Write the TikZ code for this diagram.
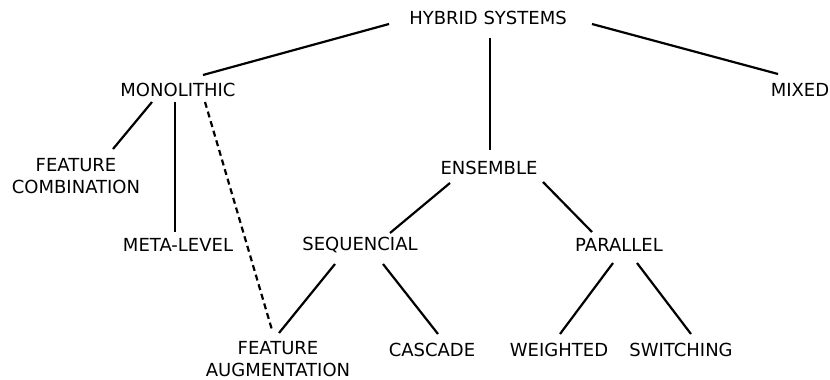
\documentclass[tikz,border=0pt]{standalone}
\usepackage{fontspec}
\setmainfont{DejaVu Sans}
\begin{document}
\begin{tikzpicture}[x=1pt,y=-1pt,
  lbl/.style={inner sep=0pt,font=\fontsize{18}{22}\selectfont,align=center},
  link/.style={line width=2.2pt},
  dlink/.style={line width=2.2pt,dash pattern=on 6pt off 4pt}]
\useasboundingbox (0,0) rectangle (830,380);
% nodes
\node[lbl] (hyb) at (488,18) {HYBRID SYSTEMS};
\node[lbl] (mono) at (178,90) {MONOLITHIC};
\node[lbl] (mixed) at (800,90) {MIXED};
\node[lbl] (fc) at (76,176) {FEATURE\\COMBINATION};
\node[lbl] (ml) at (178,245) {META-LEVEL};
\node[lbl] (ens) at (489,168) {ENSEMBLE};
\node[lbl] (seq) at (360,245) {SEQUENCIAL};
\node[lbl] (par) at (619,245) {PARALLEL};
\node[lbl] (fa) at (278,359) {FEATURE\\AUGMENTATION};
\node[lbl] (cas) at (432,350) {CASCADE};
\node[lbl] (wei) at (559,350) {WEIGHTED};
\node[lbl] (swi) at (681,350) {SWITCHING};
% connectors
\draw[link] ([shift={(-99,6)}]hyb.center) -- ([shift={(25,-15)}]mono.center);
\draw[link] ([shift={(104,6)}]hyb.center) -- ([shift={(-22,-16)}]mixed.center);
\draw[link] ([shift={(2,20)}]hyb.center) -- ([shift={(1,-18)}]ens.center);
\draw[link] ([shift={(-26,12)}]mono.center) -- ([shift={(37,-27)}]fc.center);
\draw[link] ([shift={(-3,12)}]mono.center) -- ([shift={(-3,-13)}]ml.center);
\draw[dlink] ([shift={(27,12)}]mono.center) -- ([shift={(-6,-29)}]fa.center);
\draw[link] ([shift={(-39,15)}]ens.center) -- ([shift={(30,-12)}]seq.center);
\draw[link] ([shift={(54,14)}]ens.center) -- ([shift={(-27,-13)}]par.center);
\draw[link] ([shift={(-25,19)}]seq.center) -- ([shift={(1,-26)}]fa.center);
\draw[link] ([shift={(23,19)}]seq.center) -- ([shift={(6,-16)}]cas.center);
\draw[link] ([shift={(-6,18)}]par.center) -- ([shift={(1,-16)}]wei.center);
\draw[link] ([shift={(18,18)}]par.center) -- ([shift={(10,-16)}]swi.center);
\end{tikzpicture}
\end{document}
